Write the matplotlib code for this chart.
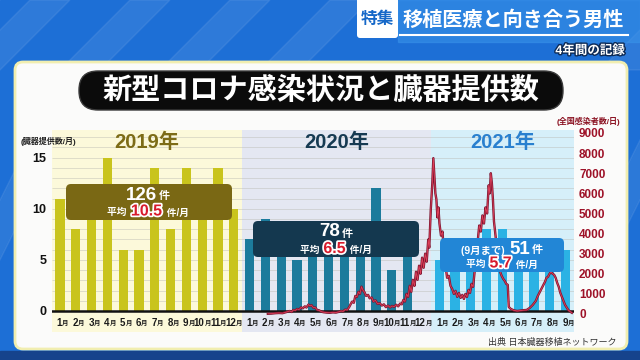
import matplotlib.pyplot as plt
import matplotlib.patheffects as pe
from matplotlib.patches import Rectangle, FancyBboxPatch, Polygon
from matplotlib.offsetbox import TextArea, HPacker, AnnotationBbox
import pandas as pd

plt.rcParams['font.family'] = ['Liberation Sans', 'Noto Sans CJK JP', 'DejaVu Sans']

# organ donations per month
donations_2019 = [11, 8, 10, 15, 6, 6, 14, 8, 14, 10, 14, 10]
donations_2020 = [7, 9, 7, 5, 7, 7, 7, 7, 12, 4, 6, 0]
donations_2021 = [5, 5, 5, 8, 8, 5, 5, 4, 6]
month_labels = list(range(1, 13)) * 2 + list(range(1, 10))

# national daily infections (as drawn)
case_dates = [
    '2020-02-20', '2020-02-27', '2020-03-05', '2020-03-12', '2020-03-19', '2020-03-26',
    '2020-04-02', '2020-04-06', '2020-04-09', '2020-04-13', '2020-04-16', '2020-04-20',
    '2020-04-24', '2020-04-27', '2020-05-01', '2020-05-04', '2020-05-08', '2020-05-11',
    '2020-05-14', '2020-05-18', '2020-05-21', '2020-05-25', '2020-05-29', '2020-06-02',
    '2020-06-06', '2020-06-12', '2020-06-18', '2020-06-24', '2020-06-30', '2020-07-06',
    '2020-07-10', '2020-07-14', '2020-07-18', '2020-07-22', '2020-07-26', '2020-07-29',
    '2020-08-01', '2020-08-04', '2020-08-07', '2020-08-10', '2020-08-13', '2020-08-16',
    '2020-08-19', '2020-08-22', '2020-08-25', '2020-08-28', '2020-09-01', '2020-09-04',
    '2020-09-08', '2020-09-11', '2020-09-15', '2020-09-19', '2020-09-23', '2020-09-27',
    '2020-10-01', '2020-10-05', '2020-10-09', '2020-10-13', '2020-10-17', '2020-10-21',
    '2020-10-25', '2020-10-29', '2020-11-02', '2020-11-05', '2020-11-08', '2020-11-11',
    '2020-11-14', '2020-11-17', '2020-11-20', '2020-11-23', '2020-11-26', '2020-11-29',
    '2020-12-02', '2020-12-05', '2020-12-08', '2020-12-11', '2020-12-14', '2020-12-17',
    '2020-12-20', '2020-12-23', '2020-12-26', '2020-12-28', '2020-12-31',
    '2021-01-03', '2021-01-05', '2021-01-07', '2021-01-09', '2021-01-11', '2021-01-13',
    '2021-01-15', '2021-01-17', '2021-01-20', '2021-01-23', '2021-01-26', '2021-01-29',
    '2021-02-01', '2021-02-04', '2021-02-07', '2021-02-10', '2021-02-13', '2021-02-16',
    '2021-02-19', '2021-02-22', '2021-02-25', '2021-02-28', '2021-03-03', '2021-03-06',
    '2021-03-09', '2021-03-12', '2021-03-15', '2021-03-18', '2021-03-21', '2021-03-24',
    '2021-03-27', '2021-03-30', '2021-04-02', '2021-04-05', '2021-04-08', '2021-04-11',
    '2021-04-14', '2021-04-17', '2021-04-20', '2021-04-22', '2021-04-24', '2021-04-26',
    '2021-04-28', '2021-04-30', '2021-05-03', '2021-05-06', '2021-05-09', '2021-05-12',
    '2021-05-15', '2021-05-18', '2021-05-21', '2021-05-24', '2021-05-27', '2021-05-29',
    '2021-06-02', '2021-06-08', '2021-06-14', '2021-06-20', '2021-06-26', '2021-07-02',
    '2021-07-08', '2021-07-14', '2021-07-20', '2021-07-24', '2021-07-28', '2021-08-01',
    '2021-08-04', '2021-08-07', '2021-08-10', '2021-08-13', '2021-08-16', '2021-08-19',
    '2021-08-22', '2021-08-25', '2021-08-28', '2021-08-31', '2021-09-03', '2021-09-06',
    '2021-09-09', '2021-09-12', '2021-09-15', '2021-09-18', '2021-09-21', '2021-09-25',
    '2021-09-28',
]
case_values = [
    10, 20, 40, 50, 40, 90,
    150, 100, 200, 180, 250, 220,
    330, 280, 380, 320, 470, 400,
    440, 300, 330, 200, 180, 120,
    90, 70, 60, 80, 70, 110,
    150, 130, 220, 200, 350, 500,
    620, 560, 900, 850, 1100, 1000,
    1360, 1180, 1080, 900, 950, 780,
    820, 620, 680, 500, 540, 420,
    480, 340, 420, 330, 400, 360,
    460, 380, 520, 480, 700, 620,
    1000, 850, 1400, 1100, 1700, 1400,
    2100, 1700, 2400, 2000, 2800, 2300,
    3000, 2600, 3700, 3300, 5200,
    6500, 7750, 6900, 6000, 5700, 4800,
    5300, 4500, 3900, 4100, 2900, 2400,
    1800, 1900, 1400, 1250, 1000, 1150,
    850, 1050, 800, 950, 750, 1000,
    850, 1200, 1050, 1500, 1350, 2100,
    2600, 3600, 4400, 4100, 4900, 4500,
    5300, 5000, 6400, 6000, 7000, 6500,
    5700, 4600, 3900, 3100, 2600, 2100,
    1900, 1750, 1650, 1500, 1450, 350,
    250, 180, 150, 170, 190, 200,
    300, 450, 650, 900, 1100, 1300,
    1450, 1600, 1800, 1850, 2000, 2100,
    2000, 1950, 1800, 1550, 1350, 1050,
    850, 650, 450, 330, 200, 110,
    60,
]


def month_pos(dates):
    # month slot index, Jan 2019 centred on 0
    d = pd.to_datetime(pd.Series(dates))
    return ((d.dt.year - 2019) * 12 + d.dt.month - 1.5 + (d.dt.day - 1) / d.dt.days_in_month).values


def rich(ax, x, y, parts):
    boxes = []
    for s, size, color, stroke in parts:
        props = dict(fontsize=size, color=color, fontweight='bold')
        if stroke:
            props['path_effects'] = [pe.withStroke(linewidth=2.5, foreground='white')]
        boxes.append(TextArea(s, textprops=props))
    pack = HPacker(children=boxes, pad=0, sep=1, align='baseline')
    ab = AnnotationBbox(pack, (x, y), frameon=False, box_alignment=(0.5, 0.5), pad=0, zorder=10)
    ax.add_artist(ab)


fig = plt.figure(figsize=(6.4, 3.6), dpi=100)

# ---- backdrop ----
bg = fig.add_axes([0, 0, 1, 1])
bg.set_xlim(0, 640)
bg.set_ylim(360, 0)
bg.axis('off')
bg.add_patch(Rectangle((0, 0), 640, 360, color='#1d6fd6', zorder=0))
for x0 in [-40, 60, 160, 260, 600]:
    bg.add_patch(Polygon([(x0 + 70, 0), (x0 + 110, 0), (x0 + 40, 70), (x0, 70)],
                         color='white', alpha=0.08, zorder=1))
for x0 in [-20, 590]:
    bg.add_patch(Polygon([(x0 + 60, 120), (x0 + 90, 120), (x0 + 20, 260), (x0 - 10, 260)],
                         color='white', alpha=0.07, zorder=1))
bg.add_patch(Rectangle((398, 0), 242, 42, color='#3a94ea', alpha=0.55, zorder=1))
bg.add_patch(Rectangle((0, 351), 640, 9, color='#16438c', zorder=1))

# header
bg.add_patch(FancyBboxPatch((357, -4), 41, 42, boxstyle='round,pad=0,rounding_size=3',
                            facecolor='white', edgecolor='none', zorder=2))
bg.text(377.5, 19, '特集', fontsize=12, fontweight='bold', color='#1668c8',
        ha='center', va='center', zorder=3)
bg.text(513, 20, '移植医療と向き合う男性', fontsize=14.5, fontweight='bold', color='white',
        ha='center', va='center', zorder=3)
bg.plot([400, 628], [35, 35], color='white', lw=1.5, zorder=3)
bg.text(625, 51, '4年間の記録', fontsize=9, fontweight='bold', color='white',
        ha='right', va='center', zorder=3,
        path_effects=[pe.withStroke(linewidth=2, foreground='#0d2a55')])

# panel
bg.add_patch(FancyBboxPatch((15, 62), 612, 287, boxstyle='round,pad=0,rounding_size=8',
                            facecolor='#fbfbfa', edgecolor='#f1eeb0', lw=2, zorder=2))
bg.add_patch(FancyBboxPatch((79, 71), 484, 39, boxstyle='round,pad=0,rounding_size=19',
                            facecolor='#0b0b0b', edgecolor='#3a3a3a', lw=1, zorder=3))
bg.text(321, 91, '新型コロナ感染状況と臓器提供数', fontsize=21, fontweight='bold',
        color='white', ha='center', va='center', zorder=4)
bg.text(617, 342, '出典 日本臓器移植ネットワーク', fontsize=6.5, color='#333333',
        ha='right', va='center', zorder=4)

# ---- chart ----
ax = fig.add_axes([52.1 / 640, 42 / 360, 521.4 / 640, 188 / 360])
ax.patch.set_visible(False)
ax.set_xlim(-0.5, 32.5)
ax.set_ylim(-0.685, 17.71)
for s in ax.spines.values():
    s.set_visible(False)

region_colors = ['#fcf9da', '#e4e7f2', '#d6eff9']
region_edges = [-0.5, 11.5, 23.5, 32.5]
for k in range(3):
    ax.add_patch(Rectangle((region_edges[k], -0.075), region_edges[k + 1] - region_edges[k], 1.075,
                           transform=ax.get_xaxis_transform(), facecolor=region_colors[k],
                           edgecolor='none', clip_on=False, zorder=0))
ax.hlines(range(1, 18), -0.5, 32.5, color='#b8b8b0', lw=0.6, alpha=0.5, zorder=0.5)

x19 = list(range(0, 12))
x20 = list(range(12, 24))
x21 = list(range(24, 33))
ax.bar(x19, donations_2019, width=0.58, color='#c9c41c', zorder=2)
ax.bar(x20, donations_2020, width=0.58, color='#1c7b9c', zorder=2)
ax.bar(x21, donations_2021, width=0.58, color='#2bb2e4', zorder=2)
ax.axhline(0, color='#111111', lw=1.8, zorder=3)

ax.set_xticks([])
ax.set_yticks([0, 5, 10, 15])
ax.tick_params(axis='y', length=0, pad=4, labelsize=9, labelcolor='#111111')
for t in ax.get_yticklabels():
    t.set_fontweight('bold')

for i, m in enumerate(month_labels):
    ax.text(i + 0.14, -0.025, str(m), transform=ax.get_xaxis_transform(), fontsize=7,
            fontweight='bold', color='#1a1a1a', ha='right', va='center')
    ax.text(i + 0.14, -0.029, '月', transform=ax.get_xaxis_transform(), fontsize=4.6,
            fontweight='bold', color='#1a1a1a', ha='left', va='center')

ax.text(5.5, 0.935, '2019年', transform=ax.get_xaxis_transform(), fontsize=14.5,
        fontweight='bold', color='#7d6c16', ha='center', va='center')
ax.text(17.5, 0.935, '2020年', transform=ax.get_xaxis_transform(), fontsize=14.5,
        fontweight='bold', color='#163a52', ha='center', va='center')
ax.text(28.0, 0.935, '2021年', transform=ax.get_xaxis_transform(), fontsize=14.5,
        fontweight='bold', color='#2a80cf', ha='center', va='center')

ax2 = ax.twinx()
ax2.set_ylim(-199, 9149)
for s in ax2.spines.values():
    s.set_visible(False)
case_x = month_pos(case_dates)
ax2.plot(case_x, case_values, color='#7d1530', lw=1.7, zorder=4)
ax2.plot(case_x, case_values, color='#e0405a', lw=0.6, zorder=5)
ax2.set_yticks(range(0, 9001, 1000))
ax2.tick_params(axis='y', length=0, pad=4, labelsize=8.5, labelcolor='#9e1228')
for t in ax2.get_yticklabels():
    t.set_fontweight('bold')

# ---- overlay: axis titles and summary boxes ----
top = fig.add_axes([0, 0, 1, 1])
top.set_xlim(0, 640)
top.set_ylim(360, 0)
top.axis('off')
top.patch.set_visible(False)

top.text(48, 141, '(臓器提供数/月)', fontsize=5.8, fontweight='bold', color='#222222',
         ha='center', va='center')
top.text(588, 121, '(全国感染者数/日)', fontsize=5.8, fontweight='bold', color='#8a1020',
         ha='center', va='center')

top.add_patch(FancyBboxPatch((66, 184), 166, 36, boxstyle='round,pad=0,rounding_size=5',
                             facecolor='#7a6814', edgecolor='none', zorder=5))
rich(top, 148, 195, [('126', 13.5, 'white', False), ('件', 8, 'white', False)])
rich(top, 148, 211, [('平均 ', 7, 'white', False), ('10.5', 11.5, '#d81b2c', True),
                     (' 件/月', 7, 'white', False)])

top.add_patch(FancyBboxPatch((253, 221), 166, 36, boxstyle='round,pad=0,rounding_size=5',
                             facecolor='#14384f', edgecolor='none', zorder=5))
rich(top, 336, 232, [('78', 13.5, 'white', False), ('件', 8, 'white', False)])
rich(top, 336, 248.5, [('平均 ', 7, 'white', False), ('6.5', 11.5, '#d81b2c', True),
                       (' 件/月', 7, 'white', False)])

top.add_patch(FancyBboxPatch((440, 238), 124, 34, boxstyle='round,pad=0,rounding_size=5',
                             facecolor='#2286d6', edgecolor='none', zorder=5))
rich(top, 502, 249, [('(9月まで) ', 7.5, 'white', False), ('51', 13.5, 'white', False),
                     ('件', 8, 'white', False)])
rich(top, 502, 263, [('平均 ', 7, 'white', False), ('5.7', 11.5, '#d81b2c', True),
                     (' 件/月', 7, 'white', False)])

plt.savefig('out.png', dpi=100)
